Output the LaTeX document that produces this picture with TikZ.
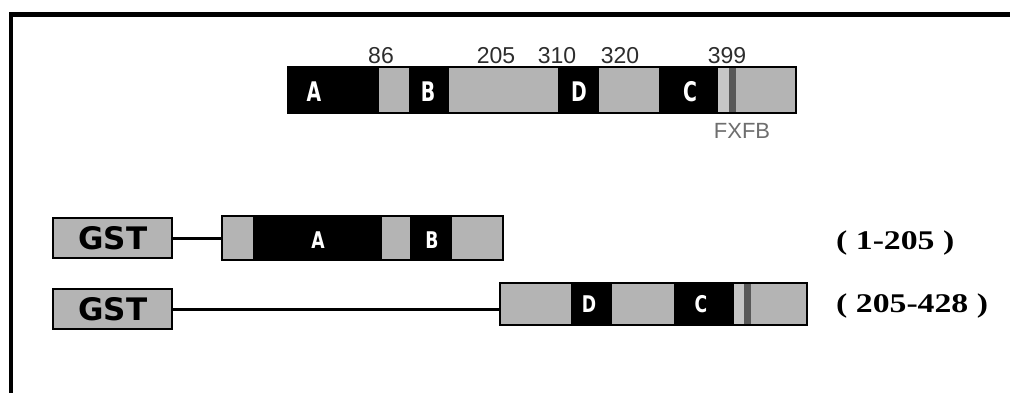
\documentclass[tikz,border=0pt]{standalone}
\usepackage{fontspec}
\setmainfont{Liberation Serif}
\newfontfamily\numfont{Liberation Sans}
\newfontfamily\domfont{DejaVu Sans}
\definecolor{segfill}{RGB}{180,180,180}
\definecolor{seglight}{RGB}{198,198,198}
\definecolor{stripe}{RGB}{88,88,88}
\definecolor{numcol}{RGB}{45,45,45}
\definecolor{motifcol}{RGB}{110,110,110}
\begin{document}
\begin{tikzpicture}[x=1pt,y=-1pt,
  barframe/.style={draw=black,line width=2pt,fill=none,inner sep=0pt,anchor=north west},
  gstbox/.style={draw=black,line width=2.4pt,fill=segfill,inner sep=0pt,anchor=north west,
    minimum width=119pt,minimum height=40pt},
  gsttext/.style={font=\domfont\bfseries\fontsize{31}{31}\selectfont},
  toplet/.style={text=white,inner sep=0pt,font=\domfont\bfseries\fontsize{27}{27}\selectfont},
  lowlet/.style={text=white,inner sep=0pt,font=\domfont\bfseries\fontsize{23}{23}\selectfont},
  posnum/.style={text=numcol,inner sep=0pt,anchor=base,font=\numfont\fontsize{23}{23}\selectfont},
  rangelbl/.style={inner sep=0pt,anchor=base west,font=\bfseries\fontsize{27}{27}\selectfont},
  link/.style={draw=black,line width=3.2pt}]
\useasboundingbox (0,0) rectangle (1010,392);
\fill[white] (0,0) rectangle (1010,392);
% outer frame (top and left edges)
\draw[line width=4.5pt] (11,420) -- (11,14.5) -- (1040,14.5);

% ---------- full-length protein ----------
\fill[black]    (287,66) rectangle (379,112);
\fill[segfill]  (379,66) rectangle (409,112);
\fill[black]    (409,66) rectangle (449,112);
\fill[segfill]  (449,66) rectangle (558,112);
\fill[black]    (558,66) rectangle (599,112);
\fill[segfill]  (599,66) rectangle (659,112);
\fill[black]    (659,66) rectangle (718,112);
\fill[seglight] (718,66) rectangle (729,112);
\fill[stripe]   (729,66) rectangle (736,112);
\fill[segfill]  (736,66) rectangle (795,112);
\node[barframe,minimum width=508pt,minimum height=46pt] (full) at (287,66) {};
\node[toplet] (fA) at (314,92) {\scalebox{0.7}[1]{A}};
\node[toplet] (fB) at (428,92) {\scalebox{0.7}[1]{B}};
\node[toplet] (fD) at (579,92) {\scalebox{0.7}[1]{D}};
\node[toplet] (fC) at (690,92) {\scalebox{0.7}[1]{C}};
\node[posnum] (p86)  at (381,63) {86};
\node[posnum] (p205) at (496,63) {205};
\node[posnum] (p310) at (557,63) {310};
\node[posnum] (p320) at (620,63) {320};
\node[posnum] (p399) at (727,63) {399};
\node[text=motifcol,inner sep=0pt,anchor=base,font=\numfont\fontsize{22}{22}\selectfont] (fxfb) at (742,138) {FXFB};

% ---------- GST fusion 1-205 ----------
\node[gstbox] (gst1) at (52,217) {};
\node[gsttext] (gst1t) at (gst1.center) {GST};
\fill[segfill]  (221,215) rectangle (253,259);
\fill[black]    (253,215) rectangle (382,259);
\fill[segfill]  (382,215) rectangle (410,259);
\fill[black]    (410,215) rectangle (452,259);
\fill[segfill]  (452,215) rectangle (502,259);
\node[barframe,minimum width=281pt,minimum height=44pt] (bar1) at (221,215) {};
\node[lowlet] (aA) at (318,240) {\scalebox{0.75}[1]{A}};
\node[lowlet] (aB) at (432,240) {\scalebox{0.75}[1]{B}};
\draw[link] (gst1.east) -- (gst1.east -| bar1.west);
\node[rangelbl] (r1) at (836,249) {\scalebox{1.25}[1]{( 1-205 )}};

% ---------- GST fusion 205-428 ----------
\node[gstbox] (gst2) at (52,288) {};
\node[gsttext] (gst2t) at (gst2.center) {GST};
\fill[segfill]  (499,282) rectangle (571,324);
\fill[black]    (571,282) rectangle (612,324);
\fill[segfill]  (612,282) rectangle (674,324);
\fill[black]    (674,282) rectangle (734,324);
\fill[seglight] (734,282) rectangle (744,324);
\fill[stripe]   (744,282) rectangle (751,324);
\fill[segfill]  (751,282) rectangle (806,324);
\node[barframe,minimum width=307pt,minimum height=42pt] (bar2) at (499,282) {};
\node[lowlet] (bD) at (589,304) {\scalebox{0.75}[1]{D}};
\node[lowlet] (bC) at (701,304) {\scalebox{0.75}[1]{C}};
\draw[link] (gst2.east) -- (gst2.east -| bar2.west);
\node[rangelbl] (r2) at (836,312) {\scalebox{1.25}[1]{( 205-428 )}};
\end{tikzpicture}
\end{document}
